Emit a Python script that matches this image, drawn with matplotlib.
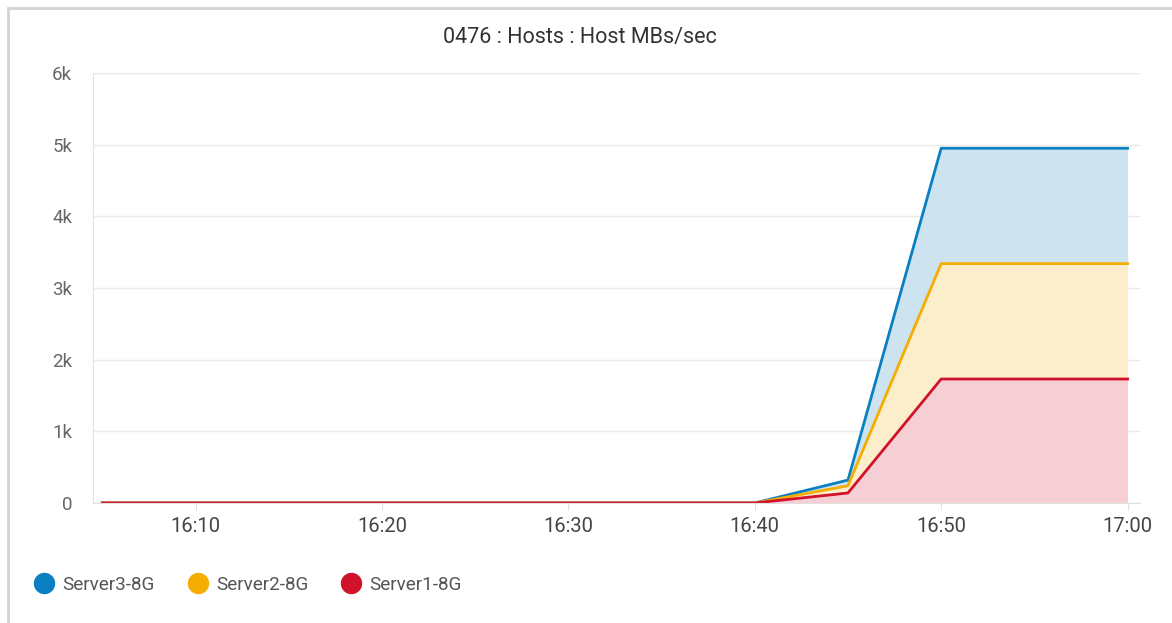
#! /usr/bin/env python
import datetime as dt
import matplotlib
matplotlib.use('Agg')
from matplotlib import pyplot as plt
import matplotlib.dates as mdates
from matplotlib.lines import Line2D
from matplotlib.patches import Rectangle

plt.rcParams['font.family'] = ['Roboto', 'DejaVu Sans']

# sample times every 5 minutes, 16:05 .. 17:00
times = ['16:05', '16:10', '16:15', '16:20', '16:25', '16:30', '16:35',
         '16:40', '16:45', '16:50', '16:55', '17:00']
# per-host MB/s (stacked in the chart)
server1 = [0, 0, 0, 0, 0, 0, 0, 0, 140, 1730, 1730, 1730]
server2 = [0, 0, 0, 0, 0, 0, 0, 0, 100, 1610, 1610, 1610]
server3 = [0, 0, 0, 0, 0, 0, 0, 0, 80, 1610, 1610, 1610]

names = ['Server3-8G', 'Server2-8G', 'Server1-8G']
line_colors = ['#0a7fc1', '#f4ad00', '#d0132b']
fill_colors = ['#cde4f0', '#fdeecb', '#f6cfd5']

day = dt.date(2020, 1, 1)
x = [dt.datetime.combine(day, dt.datetime.strptime(t, '%H:%M').time()) for t in times]

s1 = server1
s2 = [a + b for a, b in zip(s1, server2)]
s3 = [a + b for a, b in zip(s2, server3)]

W, H = 1172, 623
fig = plt.figure(figsize=(W / 100, H / 100), dpi=100)
fig.patch.set_facecolor('white')
fig.patches.append(Rectangle((8 / W, -0.1), 1.2, (H - 8) / H + 0.1,
                             transform=fig.transFigure, fill=False,
                             edgecolor='#d4d4d4', lw=2))

ax = fig.add_axes([93 / W, (H - 503) / H, (1140 - 93) / W, (503 - 73) / H])

ax.fill_between(x, s2, s3, color=fill_colors[0], lw=0)
ax.fill_between(x, s1, s2, color=fill_colors[1], lw=0)
ax.fill_between(x, 0, s1, color=fill_colors[2], lw=0)
ax.plot(x, s3, color=line_colors[0], lw=2)
ax.plot(x, s2, color=line_colors[1], lw=2)
ax.plot(x, s1, color=line_colors[2], lw=2)

ax.set_ylim(0, 6000)
ax.set_yticks(range(0, 6001, 1000))
ax.set_yticklabels(['0', '1k', '2k', '3k', '4k', '5k', '6k'])
ax.set_xlim(x[0] - dt.timedelta(seconds=30), x[-1] + dt.timedelta(seconds=40))
ax.xaxis.set_major_locator(mdates.MinuteLocator(byminute=[0, 10, 20, 30, 40, 50]))
ax.xaxis.set_major_formatter(mdates.DateFormatter('%H:%M'))

ax.grid(axis='y', color='#e9e9e9', lw=1)
ax.set_axisbelow(True)
for side in ['top', 'right']:
    ax.spines[side].set_visible(False)
ax.spines['left'].set_color('#e3e3e3')
ax.spines['bottom'].set_color('#e0e0e0')
ax.tick_params(axis='y', length=0, pad=15, labelsize=13.5, labelcolor='#666666')
ax.tick_params(axis='x', length=5, color='#e0e0e0', pad=5, labelsize=14.5,
               labelcolor='#444444')

fig.text(580 / W, (H - 38) / H, '0476 : Hosts : Host MBs/sec', ha='center',
         va='center', fontsize=15.5, color='#333333')

handles = [Line2D([], [], ls='none', marker='o', markersize=14.4,
                  markerfacecolor=c, markeredgecolor=c) for c in line_colors]
fig.legend(handles, names, loc='center left',
           bbox_to_anchor=(35 / W, (H - 585) / H), ncol=3, frameon=False,
           fontsize=13.6, labelcolor='#555555', handletextpad=0.45,
           columnspacing=1.78, handlelength=1.0, borderpad=0, borderaxespad=0)

fig.savefig('out.png', dpi=100)
